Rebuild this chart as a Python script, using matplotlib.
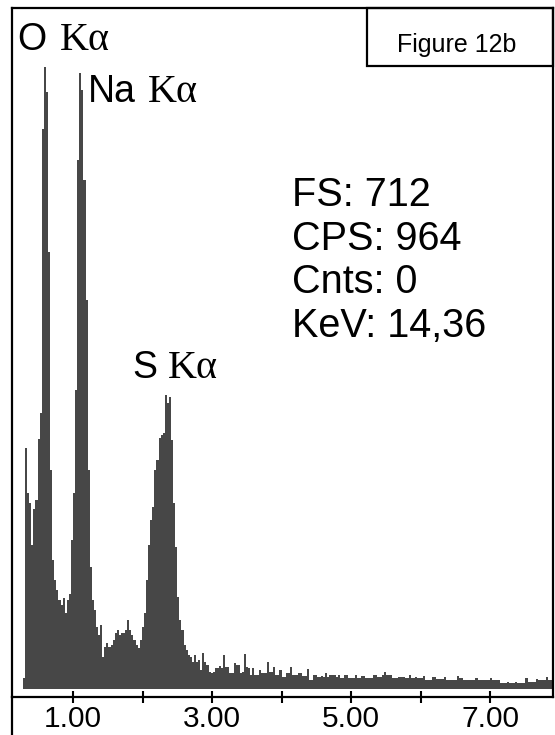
import matplotlib
matplotlib.use("Agg")
import matplotlib.pyplot as plt
import numpy as np
from matplotlib.lines import Line2D
from matplotlib.patches import Rectangle

# ---------------- data ----------------
CHANNEL_START_KEV = 0.28
CHANNEL_WIDTH_KEV = 0.03
COUNTS = [
    11, 241, 196, 186, 144, 180, 189, 250, 276, 560,
    622, 597, 437, 219, 129, 109, 99, 89, 84, 91,
    76, 89, 95, 149, 196, 299, 529, 616, 599, 509,
    389, 219, 122, 89, 79, 62, 54, 64, 32, 42,
    46, 42, 44, 49, 56, 59, 54, 56, 56, 59,
    69, 59, 54, 49, 44, 41, 49, 62, 76, 109,
    144, 169, 182, 219, 229, 251, 254, 256, 294, 286,
    292, 249, 186, 142, 92, 69, 59, 44, 39, 34,
    32, 27, 34, 27, 29, 19, 36, 27, 24, 17,
    16, 17, 21, 21, 23, 21, 34, 22, 22, 16,
    16, 26, 24, 24, 16, 17, 35, 22, 21, 14,
    21, 14, 14, 19, 16, 16, 16, 27, 17, 17,
    22, 14, 14, 19, 12, 12, 16, 16, 22, 14,
    14, 14, 16, 16, 13, 13, 20, 9, 9, 14,
    14, 12, 12, 13, 12, 16, 12, 14, 14, 14,
    12, 14, 11, 11, 14, 14, 11, 11, 11, 14,
    11, 11, 13, 13, 11, 11, 11, 11, 14, 14,
    12, 12, 14, 17, 14, 14, 14, 11, 11, 11,
    12, 12, 12, 11, 11, 14, 11, 11, 12, 11,
    11, 11, 13, 9, 9, 9, 12, 12, 10, 10,
    10, 10, 12, 9, 9, 9, 9, 9, 13, 11,
    11, 9, 9, 9, 9, 9, 9, 11, 9, 9,
    9, 9, 9, 9, 11, 9, 9, 9, 9, 6,
    6, 6, 7, 6, 6, 6, 7, 6, 6, 6,
    6, 11, 7, 7, 7, 7, 10, 9, 9, 9,
    9, 12, 9, 9,
]
TICK_KEV = [1, 2, 3, 4, 5, 6, 7]
TICK_LABELS = ["1.00", "", "3.00", "", "5.00", "", "7.00"]
PEAK_ELEMENTS = ["O", "Na", "S"]
PEAK_LINE = "K\u03b1"
INFO_LINES = ["FS: 712", "CPS: 964", "Cnts: 0", "KeV: 14,36"]
FIGURE_TAG = "Figure 12b"

# ---------------- layout ----------------
W, H, DPI = 555, 735, 100
fig = plt.figure(figsize=(W / DPI, H / DPI), dpi=DPI)
fig.patch.set_facecolor("white")

def fx(px):
    return px / W

def fy(py):
    return 1 - py / H

SANS = ["Liberation Sans", "DejaVu Sans"]
SERIF = ["Liberation Serif", "DejaVu Serif"]

ax = fig.add_axes([fx(12), fy(697), fx(553) - fx(12), fy(8) - fy(697)])
counts = np.asarray(COUNTS, dtype=float)
edges = CHANNEL_START_KEV + CHANNEL_WIDTH_KEV * np.arange(len(counts) + 1)
ax.stairs(counts, edges, fill=True, color="#474747", linewidth=0, baseline=0)

ax.set_xlim(0.122, 7.906)
ax.set_ylim(-8, 681)
ax.set_yticks([])
ax.set_xticks(TICK_KEV)
ax.set_xticklabels(TICK_LABELS, fontfamily=SANS, fontsize=21.5)
ax.tick_params(axis="x", direction="inout", length=9, width=1.5, pad=1, colors="black")
for sp in ax.spines.values():
    sp.set_linewidth(1.6)
    sp.set_color("black")

# left border continues below the axis line
fig.add_artist(Line2D([fx(12), fx(12)], [fy(697), 0], transform=fig.transFigure,
                      color="black", lw=1.6))

# figure tag box
fig.add_artist(Rectangle((fx(367), fy(66)), fx(553) - fx(367), fy(8) - fy(66),
                         transform=fig.transFigure, fill=False, edgecolor="black", lw=1.6))
fig.text(fx(457), fy(52), FIGURE_TAG, fontfamily=SANS, fontsize=18,
         ha="center", va="baseline")

# peak labels: element in sans, K-alpha in serif
elem_pos = [(17, 50, 60), (88, 102, 148), (132, 378, 168)]
for el, (x0, yb, xk) in zip(PEAK_ELEMENTS, elem_pos):
    fig.text(fx(x0), fy(yb), el, fontfamily=SANS, fontsize=27, va="baseline", ha="left")
    fig.text(fx(xk), fy(yb), PEAK_LINE, fontfamily=SERIF, fontsize=29, va="baseline", ha="left")

# info lines
for k, line in enumerate(INFO_LINES):
    fig.text(fx(292), fy(206 + 43.7 * k), line, fontfamily=SANS, fontsize=28.5,
             va="baseline", ha="left")

fig.savefig("out.png", dpi=DPI, facecolor="white")
